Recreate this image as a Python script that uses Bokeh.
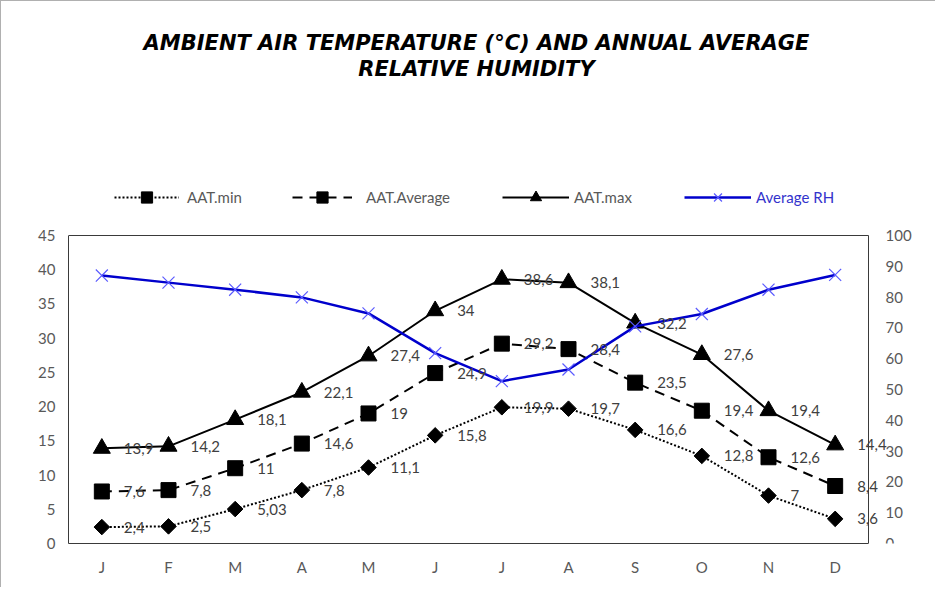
import math
from bokeh.plotting import figure
from bokeh.models import (ColumnDataSource, Range1d, LinearAxis, FixedTicker,
                          LabelSet, Label, Legend, LegendItem)
from bokeh.core.properties import value
from bokeh.embed import file_html
from bokeh.resources import INLINE

# ---------------- data ----------------
months = ["J", "F", "M", "A", "M", "J", "J", "A", "S", "O", "N", "D"]
aat_min = [2.4, 2.5, 5.03, 7.8, 11.1, 15.8, 19.9, 19.7, 16.6, 12.8, 7, 3.6]
aat_avg = [7.6, 7.8, 11, 14.6, 19, 24.9, 29.2, 28.4, 23.5, 19.4, 12.6, 8.4]
aat_max = [13.9, 14.2, 18.1, 22.1, 27.4, 34, 38.6, 38.1, 32.2, 27.6, 19.4, 14.4]
avg_rh = [87, 84.7, 82.4, 79.9, 74.7, 61.8, 52.7, 56.5, 70.5, 74.5, 82.4, 87.2]
left_ticks = list(range(0, 50, 5))
right_ticks = list(range(0, 110, 10))
title_lines = ["AMBIENT AIR TEMPERATURE (°C) AND ANNUAL AVERAGE",
               "RELATIVE HUMIDITY"]
series_names = ["AAT.min", "AAT.Average", "AAT.max", "Average RH"]

FONT = "Lato"
TICK_COLOR = "#595959"
LABEL_COLOR = "#404040"
AXIS_COLOR = "#3a3a3a"

# ---------------- layout (pixels) ----------------
W, H = 935, 587
MB_LEFT, MB_RIGHT, MB_TOP, MB_BOTTOM = 67, 10, 8, 45
BOX_W = 800            # width of the drawn plot box (left axis to right axis)
FRAME_W = W - MB_LEFT - MB_RIGHT
FRAME_H = H - MB_TOP - MB_BOTTOM
BOX_H = 308            # height of the drawn plot box (0..45)
N = len(months)
Y_MAX, RH_MAX = 45, 100
px_x = BOX_W / N
x_end = -0.5 + FRAME_W / px_x
y_end = Y_MAX * FRAME_H / BOX_H
rh_end = RH_MAX * FRAME_H / BOX_H


def fmt(v):
    return f"{v:g}".replace(".", ",")


x = list(range(N))
src = ColumnDataSource(dict(
    x=x,
    mn=aat_min, avg=aat_avg, mx=aat_max, rh=avg_rh,
    mn_t=[fmt(v) for v in aat_min],
    avg_t=[fmt(v) for v in aat_avg],
    mx_t=[fmt(v) for v in aat_max],
))

p = figure(width=W, height=H,
           x_range=Range1d(-0.5, x_end),
           y_range=Range1d(0, y_end),
           x_axis_location=None, y_axis_location=None,
           output_backend="svg", toolbar_location=None,
           min_border_left=MB_LEFT, min_border_right=MB_RIGHT,
           min_border_top=MB_TOP, min_border_bottom=MB_BOTTOM)
p.styles = {"border-left": "1px solid #b0b0b0", "border-top": "1px solid #b0b0b0"}
p.extra_y_ranges = {"rh": Range1d(0, rh_end)}
p.xgrid.visible = False
p.ygrid.visible = False
p.outline_line_color = None
p.background_fill_color = "white"
p.border_fill_color = "white"

x_axis = LinearAxis(ticker=FixedTicker(ticks=x), bounds=(-0.5, N - 0.5),
                    major_label_overrides={i: m for i, m in enumerate(months)},
                    major_label_standoff=14)
top_axis = LinearAxis(ticker=FixedTicker(ticks=[]), bounds=(-0.5, N - 0.5),
                      fixed_location=Y_MAX, major_label_standoff=0,
                      major_label_text_font_size="0px")
left_axis = LinearAxis(ticker=FixedTicker(ticks=left_ticks), bounds=(0, Y_MAX),
                       major_label_standoff=13)
right_axis = LinearAxis(y_range_name="rh", ticker=FixedTicker(ticks=right_ticks),
                        bounds=(0, RH_MAX), fixed_location=N - 0.5,
                        major_label_standoff=17)
p.add_layout(x_axis, "below")
p.add_layout(top_axis, "above")
p.add_layout(left_axis, "left")
p.add_layout(right_axis, "right")
for ax in (x_axis, top_axis, left_axis, right_axis):
    ax.axis_line_color = AXIS_COLOR
    ax.axis_line_width = 1
    ax.major_tick_line_color = None
    ax.minor_tick_line_color = None
    ax.major_tick_out = 0
    ax.major_tick_in = 0
    ax.minor_tick_out = 0
    ax.major_label_text_font = FONT
    ax.major_label_text_color = TICK_COLOR
for ax in (x_axis, left_axis, right_axis):
    ax.major_label_text_font_size = "15px"

# ---------------- series ----------------
l_min = p.line("x", "mn", source=src, line_color="black", line_width=2, line_dash="2 2")
s_min = p.scatter("x", "mn", source=src, marker="square", angle=math.pi / 4, size=11,
                  fill_color="black", line_color="black")
l_avg = p.line("x", "avg", source=src, line_color="black", line_width=2, line_dash="10 7")
s_avg = p.scatter("x", "avg", source=src, marker="square", size=15,
                  fill_color="black", line_color="black")
l_max = p.line("x", "mx", source=src, line_color="black", line_width=2)
s_max = p.scatter("x", "mx", source=src, marker="triangle", size=17,
                  fill_color="black", line_color="black")
l_rh = p.line("x", "rh", source=src, y_range_name="rh", line_color="#0000cc", line_width=2.5)
s_rh = p.scatter("x", "rh", source=src, y_range_name="rh", marker="x", size=17,
                 line_color="#5a5aff", line_width=1.2)

for col, txt in (("mn", "mn_t"), ("avg", "avg_t"), ("mx", "mx_t")):
    p.add_layout(LabelSet(x="x", y=col, text=txt, source=src, x_offset=22,
                          text_baseline="middle", text_align="left",
                          text_font=value(FONT), text_font_size=value("15px"),
                          text_color=LABEL_COLOR))

# ---------------- legends ----------------
LEG_BOTTOM = 332   # px above the frame bottom
leg_specs = [
    (series_names[0], [l_min, s_min], 46, 65, 8, TICK_COLOR),
    (series_names[1], [l_avg, s_avg], 224, 60, 14, TICK_COLOR),
    (series_names[2], [l_max, s_max], 434, 67, 5, TICK_COLOR),
    (series_names[3], [l_rh, s_rh], 616, 67, 5, "#3333cc"),
]
for name, rends, lx, gw, stand, col in leg_specs:
    leg = Legend(items=[LegendItem(label=name, renderers=rends)],
                 location=(lx, LEG_BOTTOM), orientation="horizontal",
                 glyph_width=gw, glyph_height=28, label_height=20,
                 label_standoff=stand, padding=0, margin=0, spacing=0,
                 border_line_color=None, background_fill_alpha=0,
                 label_text_font=FONT, label_text_font_size="15px",
                 label_text_color=col)
    p.add_layout(leg, "center")

# ---------------- title ----------------
TITLE_X_PX = 408                 # px right of the left axis
TITLE_Y_PX = (501, 475)          # px above the x axis
for line, ty in zip(title_lines, TITLE_Y_PX):
    p.add_layout(Label(x=-0.5 + TITLE_X_PX / px_x, y=Y_MAX * ty / BOX_H,
                       text=line, text_align="center", text_baseline="middle",
                       text_font="DejaVu Sans", text_font_style="bold italic",
                       text_font_size="21px", text_color="black"))

open("out.html", "w").write(file_html(p, INLINE))
